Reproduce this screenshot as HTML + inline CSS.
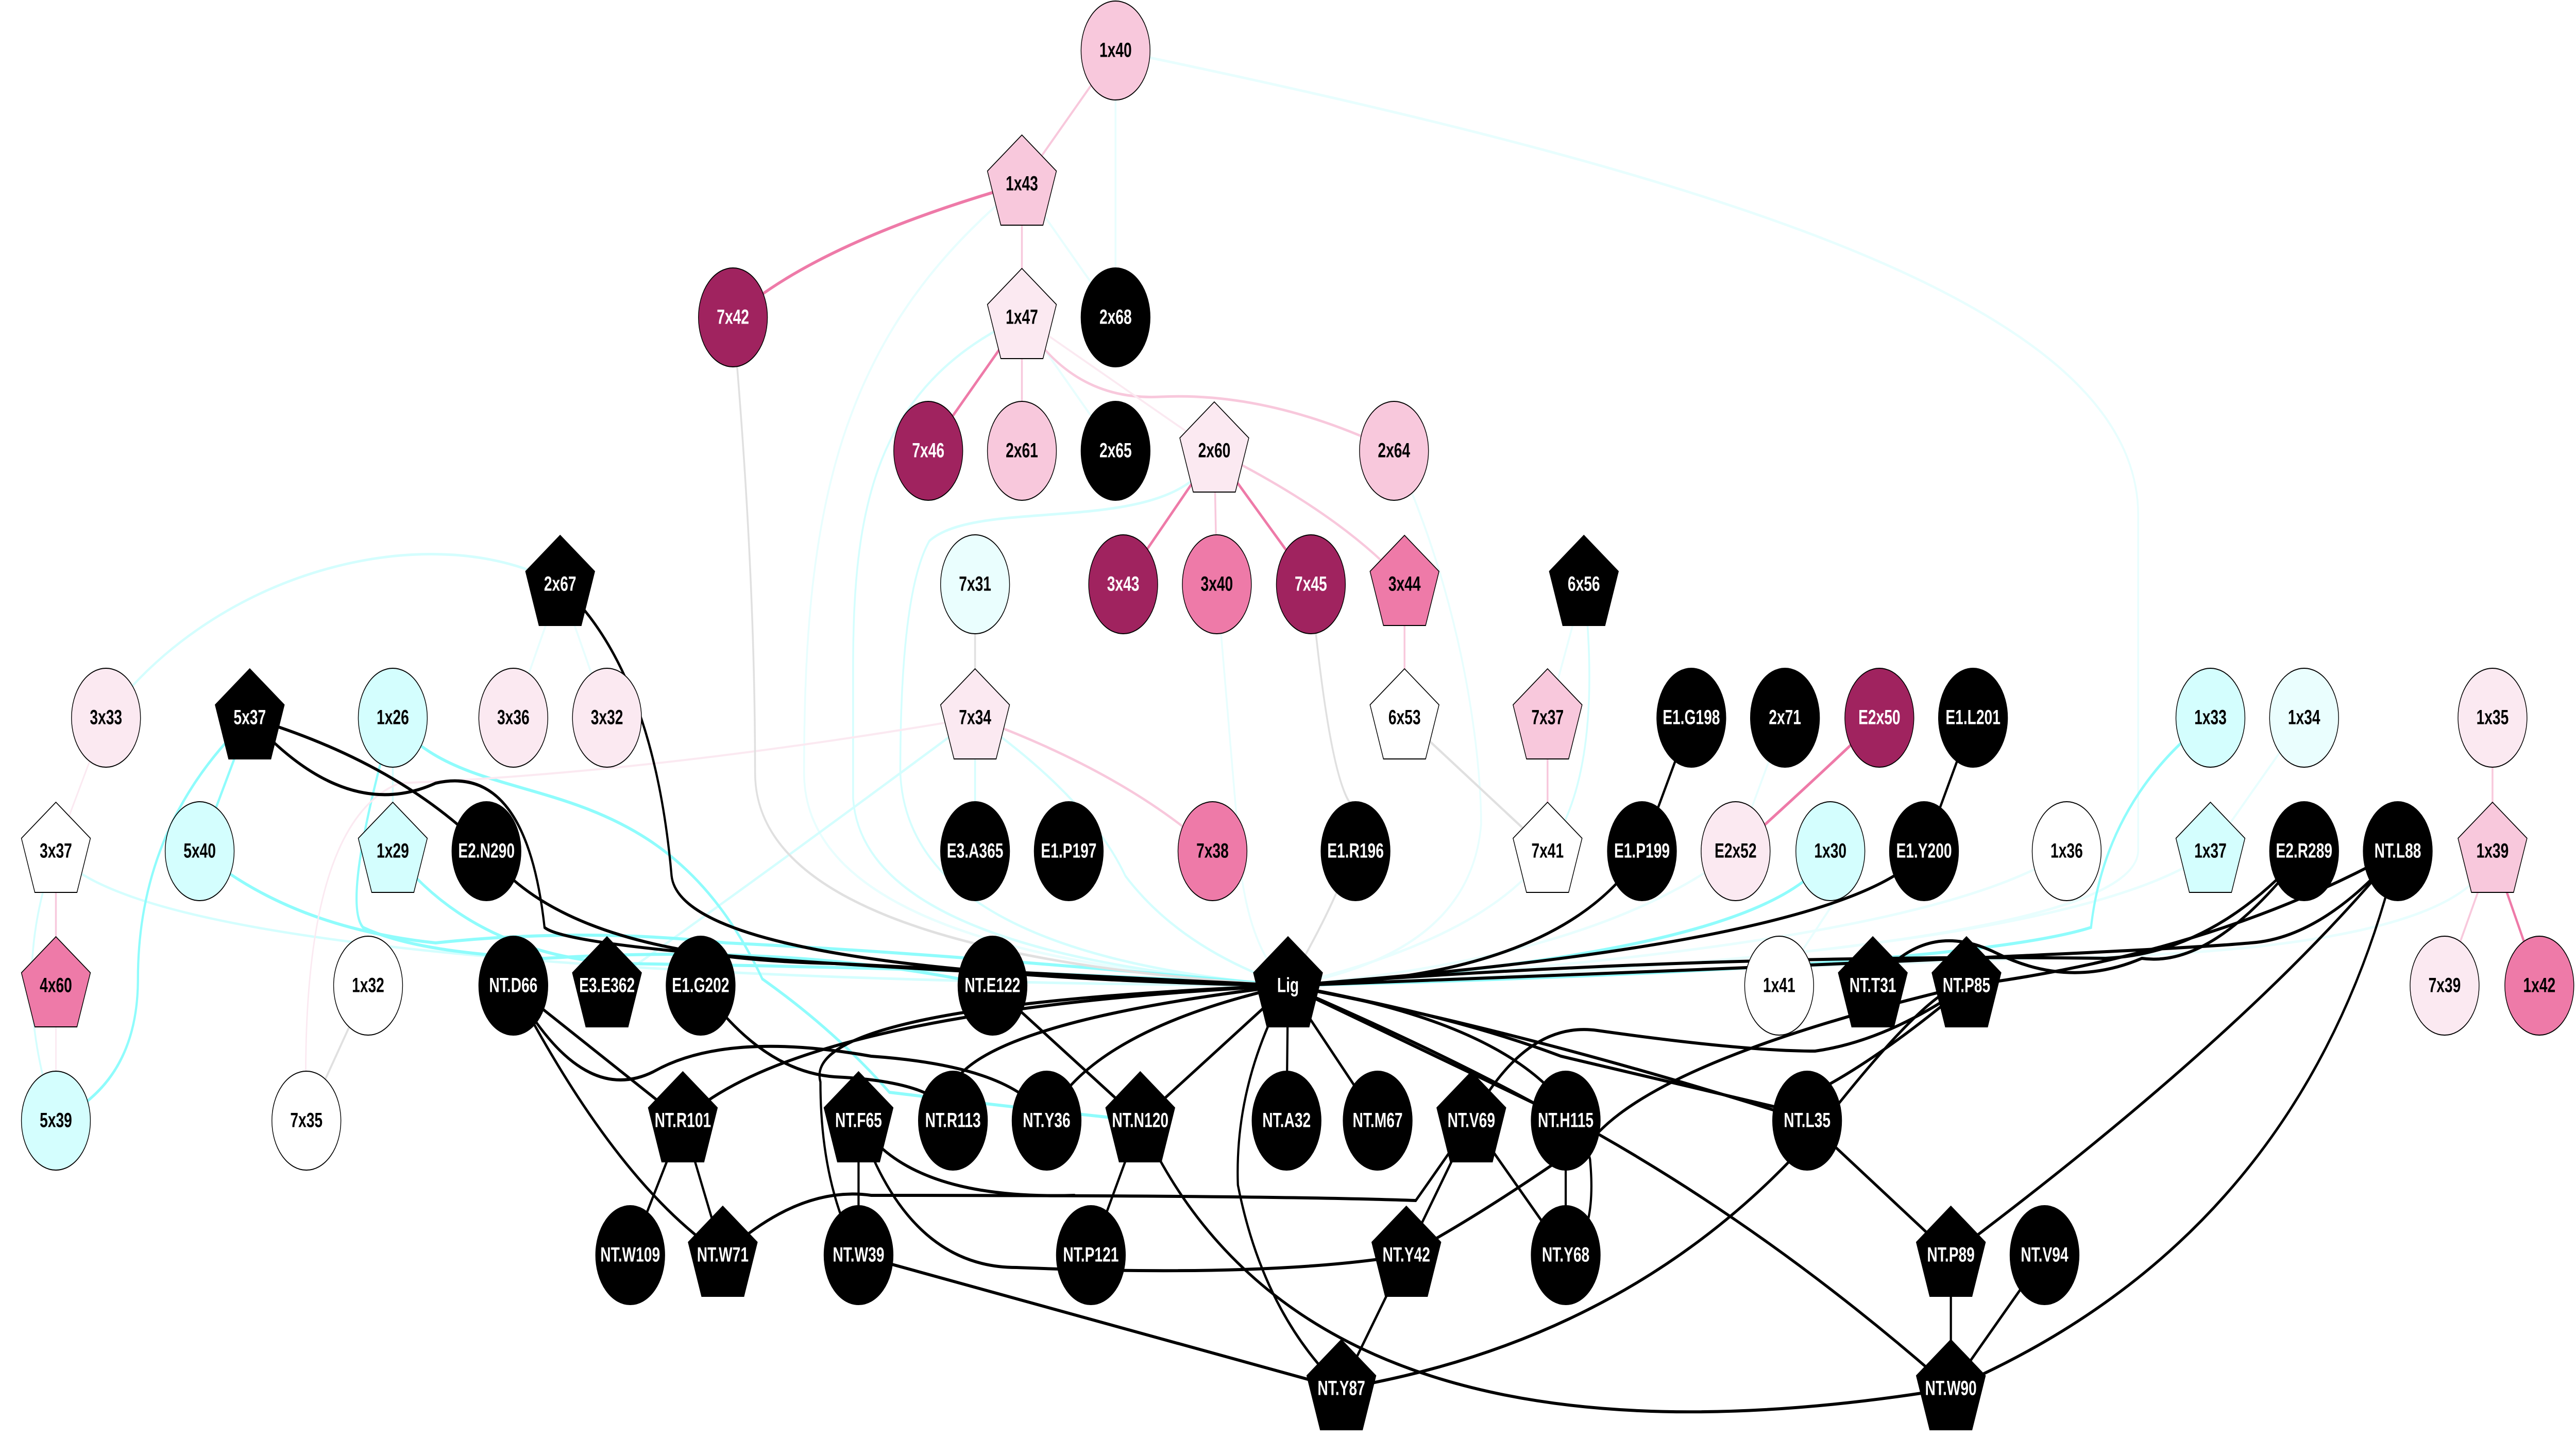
<!DOCTYPE html>
<html><head><meta charset="utf-8"><style>
html,body{margin:0;padding:0;background:#fff;overflow:hidden;}
svg{display:block;width:100vw;height:100vh;}
text{font-family:"Liberation Sans",sans-serif;font-weight:bold;font-size:40px;text-anchor:middle;dominant-baseline:central;}
.w{fill:#fff}.b{fill:#000}
</style></head><body>
<svg viewBox="0 0 7096 2789" preserveAspectRatio="none" xmlns="http://www.w3.org/2000/svg">
<g fill="none" stroke-linecap="round">
<g stroke="#e8fefe" stroke-width="5">
<path d="M3073,98 C4800,350 5890,600 5890,1000 L5890,1650 Q5890,1850 3548,1913"/>
<path d="M2815,357 C2300,650 2215,1000 2215,1500 Q2215,1850 3548,1913"/>
<path d="M3840,875 C4050,1200 4080,1500 4080,1600 Q4050,1850 3548,1913"/>
<path d="M3352,1134 L3420,1700 Q3450,1850 3548,1913"/>
<path d="M3073,98 L3073,616"/>
<path d="M2815,357 L3073,616"/>
<path d="M2815,616 L3073,875"/>
<path d="M6866,1652 Q6800,1850 5600,1860 L3548,1913"/>
<path d="M6347,1393 L6089,1652"/>
<path d="M5693,1652 Q5300,1840 3548,1913"/>
<path d="M4901,1913 L5100,1700"/>
<path d="M4917,1393 L4781,1652"/>
<path d="M1543,1134 L1414,1393 M1543,1134 L1672,1393"/>
<path d="M4363,1134 L4263,1393"/>
<path d="M4263,1652 Q4100,1820 3548,1913"/>
<path d="M4781,1652 Q4400,1860 3548,1913"/>
<path d="M6089,1652 Q5700,1860 3548,1913"/>
</g>
<g stroke="#d4fefe" stroke-width="5">
<path d="M2815,616 C2400,750 2350,1000 2350,1300 L2350,1550 Q2380,1850 3548,1913"/>
<path d="M3345,875 C3250,1050 2700,960 2560,1050 Q2480,1150 2480,1500 Q2500,1850 3548,1913"/>
<path d="M4363,1134 Q4420,1500 4263,1652"/>
<path d="M2686,1393 L2686,1652"/>
<path d="M2686,1393 Q2100,1700 1672,1913"/>
<path d="M2686,1393 Q3000,1550 3100,1700 Q3250,1840 3548,1913"/>
<path d="M1082,1393 L1082,1652"/>
<path d="M154,1652 Q400,1900 3548,1913"/>
<path d="M154,1652 Q20,1900 154,2175"/>
<path d="M292,1393 C600,1100 1200,1000 1543,1134"/>
</g>
<g stroke="#8ffcfc" stroke-width="6">
<path d="M688,1393 Q380,1600 380,1900 Q380,2100 154,2175"/>
<path d="M688,1393 L550,1652"/>
<path d="M550,1652 Q800,1800 1200,1830 Q1600,1800 2000,1830 Q2600,1850 3548,1913"/>
<path d="M1082,1393 C1300,1600 1800,1450 2100,1900 Q2300,2000 2450,2120 Q2800,2150 3141,2175"/>
<path d="M1082,1393 Q940,1750 1000,1800 Q1150,1850 1500,1860 Q2200,1830 2734,1913"/>
<path d="M1082,1652 Q1300,1850 1700,1870 Q2800,1880 3548,1913"/>
<path d="M5042,1652 Q4900,1850 3548,1913"/>
<path d="M6089,1393 Q5800,1550 5760,1800 Q5400,1880 3548,1913"/>
</g>
<g stroke="#f8c8dc" stroke-width="5">
<path d="M3073,98 L2815,357"/>
<path d="M2815,357 L2815,616"/>
<path d="M2815,616 L2815,875"/>
<path d="M2815,616 Q2950,780 3200,770 Q3500,760 3840,875"/>
<path d="M3345,875 Q3700,1000 3869,1134"/>
<path d="M3345,875 L3352,1134"/>
<path d="M3869,1134 L3869,1393"/>
<path d="M4263,1393 L4263,1652"/>
<path d="M2686,1393 Q3100,1500 3340,1652"/>
<path d="M6866,1393 L6866,1652"/>
<path d="M6866,1652 L6734,1913"/>
<path d="M154,1652 L154,1913"/>
</g>
<g stroke="#fbe9f1" stroke-width="4">
<path d="M2686,1393 Q1800,1500 1100,1520 Q820,1600 844,2175"/>
<path d="M154,1913 L154,2175"/>
<path d="M292,1393 L154,1652"/>
<path d="M2815,616 L3345,875"/>
</g>
<g stroke="#ee7aa8" stroke-width="6">
<path d="M2815,357 Q2250,470 2019,616"/>
<path d="M2815,616 L2557,875"/>
<path d="M3345,875 L3094,1134"/>
<path d="M3345,875 L3611,1134"/>
<path d="M5177,1393 Q5020,1500 4781,1652"/>
<path d="M6866,1652 L6995,1913"/>
</g>
<g stroke="#e0e0e0" stroke-width="5">
<path d="M2019,616 Q2080,1100 2080,1500 Q2080,1850 3548,1913"/>
<path d="M3611,1134 Q3660,1500 3720,1560 Q3790,1620 3548,1913"/>
<path d="M3869,1393 L4263,1652"/>
<path d="M2686,1134 L2686,1393"/>
<path d="M1014,1913 L844,2175"/>
</g>
<g stroke="#000" stroke-width="6">
<path d="M1543,1134 Q1800,1300 1850,1700 Q1880,1890 3548,1913"/>
<path d="M688,1393 Q950,1600 1200,1520 Q1450,1480 1500,1800 Q1600,1860 3548,1913"/>
<path d="M688,1393 Q1100,1480 1340,1652"/>
<path d="M1340,1652 Q1560,1860 2300,1870 L3548,1913"/>
<path d="M4523,1652 Q4300,1900 3548,1913"/>
<path d="M5300,1652 Q5100,1830 3548,1913"/>
<path d="M6347,1652 Q6100,1850 5800,1860 Q4700,1850 3548,1913"/>
<path d="M6605,1652 Q6400,1820 6200,1830 Q5900,1850 3548,1913"/>
<path d="M3548,1913 Q2500,2000 2625,2175"/>
<path d="M3548,1913 Q3000,2000 2883,2175"/>
<path d="M3548,1913 Q2200,1960 1881,2175"/>
<path d="M3548,1913 Q2200,1950 2260,2100 Q2260,2300 2365,2436"/>
<path d="M1414,1913 Q1600,2150 1800,2080 Q2000,2000 2400,2050 Q2800,2070 2883,2175"/>
<path d="M1414,1913 Q1700,2300 1991,2436"/>
<path d="M1414,1913 L1881,2175"/>
<path d="M1930,1913 Q2100,2080 2300,2090 Q2600,2100 2625,2175"/>
<path d="M2734,1913 L3141,2175"/>
<path d="M1881,2175 L1736,2436"/>
<path d="M1881,2175 L1991,2436"/>
<path d="M2365,2175 L2365,2436"/>
<path d="M2365,2175 Q2500,2460 2800,2460 Q3500,2480 3874,2436"/>
<path d="M3141,2175 L3005,2436"/>
<path d="M3141,2175 Q3600,2900 5374,2695"/>
<path d="M1991,2436 Q2200,2300 2400,2320 Q3500,2320 3900,2330 Q4000,2230 4053,2175"/>
<path d="M2365,2436 L3695,2695"/>
<path d="M3548,1913 L3544,2175"/>
<path d="M3548,1913 L3795,2175"/>
<path d="M3548,1913 L3141,2175"/>
<path d="M3548,1913 Q3400,2100 3410,2300 Q3480,2550 3695,2695"/>
<path d="M3548,1913 Q4000,2050 4313,2175"/>
<path d="M3548,1913 Q4300,2000 4380,2250 Q4400,2400 4313,2436"/>
<path d="M3548,1913 Q4200,2000 4978,2175"/>
<path d="M3548,1913 Q4100,2100 4400,2200 Q4900,2400 5374,2695"/>
<path d="M3548,1913 Q4000,1970 4300,2050 Q4600,2100 4900,2150 Q5100,2100 5417,1913"/>
<path d="M4053,2175 Q4200,1980 4400,2000 Q4800,2040 5000,2040 Q5200,2020 5417,1913"/>
<path d="M4053,2175 L3874,2436"/>
<path d="M4053,2175 L4313,2436"/>
<path d="M4313,2175 L4313,2436"/>
<path d="M3874,2436 Q4100,2350 4400,2200 Q4600,2050 5417,1913"/>
<path d="M3874,2436 L3695,2695"/>
<path d="M3695,2695 Q4500,2600 5000,2200 Q5330,1900 5417,1913"/>
<path d="M4978,2175 L5374,2436"/>
<path d="M5374,2436 L5374,2695"/>
<path d="M5632,2436 L5374,2695"/>
<path d="M4659,1393 L4523,1652"/>
<path d="M5435,1393 L5300,1652"/>
<path d="M6605,1652 Q6100,1850 5417,1913"/>
<path d="M6605,1652 Q6200,2000 5374,2436"/>
<path d="M6605,1652 Q6350,2400 5374,2695"/>
<path d="M5159,1913 Q5300,1780 5500,1850 Q5700,1920 5900,1860 Q6100,1880 6347,1652"/>
<path d="M2365,2175 Q2500,2330 2960,2320"/>
</g>
</g>
<g stroke="#000" stroke-width="2">
<ellipse cx="3073" cy="98" rx="95" ry="96" fill="#f8c8dc"/>
<polygon transform="translate(2815,357)" points="0,-95 95,-25 58,80 -58,80 -95,-25" fill="#f8c8dc"/>
<ellipse cx="2019" cy="616" rx="95" ry="96" fill="#a0235f"/>
<polygon transform="translate(2815,616)" points="0,-95 95,-25 58,80 -58,80 -95,-25" fill="#fbe9f1"/>
<ellipse cx="3073" cy="616" rx="95" ry="96" fill="#000"/>
<ellipse cx="2557" cy="875" rx="95" ry="96" fill="#a0235f"/>
<ellipse cx="2815" cy="875" rx="95" ry="96" fill="#f8c8dc"/>
<ellipse cx="3073" cy="875" rx="95" ry="96" fill="#000"/>
<polygon transform="translate(3345,875)" points="0,-95 95,-25 58,80 -58,80 -95,-25" fill="#fbe9f1"/>
<ellipse cx="3840" cy="875" rx="95" ry="96" fill="#f8c8dc"/>
<polygon transform="translate(1543,1134)" points="0,-95 95,-25 58,80 -58,80 -95,-25" fill="#000"/>
<ellipse cx="2686" cy="1134" rx="95" ry="96" fill="#eafefe"/>
<ellipse cx="3094" cy="1134" rx="95" ry="96" fill="#a0235f"/>
<ellipse cx="3352" cy="1134" rx="95" ry="96" fill="#ee7aa8"/>
<ellipse cx="3611" cy="1134" rx="95" ry="96" fill="#a0235f"/>
<polygon transform="translate(3869,1134)" points="0,-95 95,-25 58,80 -58,80 -95,-25" fill="#ee7aa8"/>
<polygon transform="translate(4363,1134)" points="0,-95 95,-25 58,80 -58,80 -95,-25" fill="#000"/>
<ellipse cx="292" cy="1393" rx="95" ry="96" fill="#fbe9f1"/>
<polygon transform="translate(688,1393)" points="0,-95 95,-25 58,80 -58,80 -95,-25" fill="#000"/>
<ellipse cx="1082" cy="1393" rx="95" ry="96" fill="#d4fefe"/>
<ellipse cx="1414" cy="1393" rx="95" ry="96" fill="#fbe9f1"/>
<ellipse cx="1672" cy="1393" rx="95" ry="96" fill="#fbe9f1"/>
<polygon transform="translate(2686,1393)" points="0,-95 95,-25 58,80 -58,80 -95,-25" fill="#fbe9f1"/>
<polygon transform="translate(3869,1393)" points="0,-95 95,-25 58,80 -58,80 -95,-25" fill="#fff"/>
<polygon transform="translate(4263,1393)" points="0,-95 95,-25 58,80 -58,80 -95,-25" fill="#f8c8dc"/>
<ellipse cx="4659" cy="1393" rx="95" ry="96" fill="#000"/>
<ellipse cx="4917" cy="1393" rx="95" ry="96" fill="#000"/>
<ellipse cx="5177" cy="1393" rx="95" ry="96" fill="#a0235f"/>
<ellipse cx="5435" cy="1393" rx="95" ry="96" fill="#000"/>
<ellipse cx="6089" cy="1393" rx="95" ry="96" fill="#d4fefe"/>
<ellipse cx="6347" cy="1393" rx="95" ry="96" fill="#eafefe"/>
<ellipse cx="6866" cy="1393" rx="95" ry="96" fill="#fbe9f1"/>
<polygon transform="translate(154,1652)" points="0,-95 95,-25 58,80 -58,80 -95,-25" fill="#fff"/>
<ellipse cx="550" cy="1652" rx="95" ry="96" fill="#d4fefe"/>
<polygon transform="translate(1082,1652)" points="0,-95 95,-25 58,80 -58,80 -95,-25" fill="#d4fefe"/>
<ellipse cx="1340" cy="1652" rx="95" ry="96" fill="#000"/>
<ellipse cx="2686" cy="1652" rx="95" ry="96" fill="#000"/>
<ellipse cx="2944" cy="1652" rx="95" ry="96" fill="#000"/>
<ellipse cx="3340" cy="1652" rx="95" ry="96" fill="#ee7aa8"/>
<ellipse cx="3734" cy="1652" rx="95" ry="96" fill="#000"/>
<polygon transform="translate(4263,1652)" points="0,-95 95,-25 58,80 -58,80 -95,-25" fill="#fff"/>
<ellipse cx="4523" cy="1652" rx="95" ry="96" fill="#000"/>
<ellipse cx="4781" cy="1652" rx="95" ry="96" fill="#fbe9f1"/>
<ellipse cx="5042" cy="1652" rx="95" ry="96" fill="#d4fefe"/>
<ellipse cx="5300" cy="1652" rx="95" ry="96" fill="#000"/>
<ellipse cx="5693" cy="1652" rx="95" ry="96" fill="#fff"/>
<polygon transform="translate(6089,1652)" points="0,-95 95,-25 58,80 -58,80 -95,-25" fill="#d4fefe"/>
<ellipse cx="6347" cy="1652" rx="95" ry="96" fill="#000"/>
<ellipse cx="6605" cy="1652" rx="95" ry="96" fill="#000"/>
<polygon transform="translate(6866,1652)" points="0,-95 95,-25 58,80 -58,80 -95,-25" fill="#f8c8dc"/>
<polygon transform="translate(154,1913)" points="0,-95 95,-25 58,80 -58,80 -95,-25" fill="#ee7aa8"/>
<ellipse cx="1014" cy="1913" rx="95" ry="96" fill="#fff"/>
<ellipse cx="1414" cy="1913" rx="95" ry="96" fill="#000"/>
<polygon transform="translate(1672,1913)" points="0,-95 95,-25 58,80 -58,80 -95,-25" fill="#000"/>
<ellipse cx="1930" cy="1913" rx="95" ry="96" fill="#000"/>
<ellipse cx="2734" cy="1913" rx="95" ry="96" fill="#000"/>
<polygon transform="translate(3548,1913)" points="0,-95 95,-25 58,80 -58,80 -95,-25" fill="#000"/>
<ellipse cx="4901" cy="1913" rx="95" ry="96" fill="#fff"/>
<polygon transform="translate(5159,1913)" points="0,-95 95,-25 58,80 -58,80 -95,-25" fill="#000"/>
<polygon transform="translate(5417,1913)" points="0,-95 95,-25 58,80 -58,80 -95,-25" fill="#000"/>
<ellipse cx="6734" cy="1913" rx="95" ry="96" fill="#fbe9f1"/>
<ellipse cx="6995" cy="1913" rx="95" ry="96" fill="#ee7aa8"/>
<ellipse cx="154" cy="2175" rx="95" ry="96" fill="#d4fefe"/>
<ellipse cx="844" cy="2175" rx="95" ry="96" fill="#fff"/>
<polygon transform="translate(1881,2175)" points="0,-95 95,-25 58,80 -58,80 -95,-25" fill="#000"/>
<polygon transform="translate(2365,2175)" points="0,-95 95,-25 58,80 -58,80 -95,-25" fill="#000"/>
<ellipse cx="2625" cy="2175" rx="95" ry="96" fill="#000"/>
<ellipse cx="2883" cy="2175" rx="95" ry="96" fill="#000"/>
<polygon transform="translate(3141,2175)" points="0,-95 95,-25 58,80 -58,80 -95,-25" fill="#000"/>
<ellipse cx="3544" cy="2175" rx="95" ry="96" fill="#000"/>
<ellipse cx="3795" cy="2175" rx="95" ry="96" fill="#000"/>
<polygon transform="translate(4053,2175)" points="0,-95 95,-25 58,80 -58,80 -95,-25" fill="#000"/>
<ellipse cx="4313" cy="2175" rx="95" ry="96" fill="#000"/>
<ellipse cx="4978" cy="2175" rx="95" ry="96" fill="#000"/>
<ellipse cx="1736" cy="2436" rx="95" ry="96" fill="#000"/>
<polygon transform="translate(1991,2436)" points="0,-95 95,-25 58,80 -58,80 -95,-25" fill="#000"/>
<ellipse cx="2365" cy="2436" rx="95" ry="96" fill="#000"/>
<ellipse cx="3005" cy="2436" rx="95" ry="96" fill="#000"/>
<polygon transform="translate(3874,2436)" points="0,-95 95,-25 58,80 -58,80 -95,-25" fill="#000"/>
<ellipse cx="4313" cy="2436" rx="95" ry="96" fill="#000"/>
<polygon transform="translate(5374,2436)" points="0,-95 95,-25 58,80 -58,80 -95,-25" fill="#000"/>
<ellipse cx="5632" cy="2436" rx="95" ry="96" fill="#000"/>
<polygon transform="translate(3695,2695)" points="0,-95 95,-25 58,80 -58,80 -95,-25" fill="#000"/>
<polygon transform="translate(5374,2695)" points="0,-95 95,-25 58,80 -58,80 -95,-25" fill="#000"/>
</g>
<g class="b">
<text x="3073" y="98">1x40</text><text x="2815" y="357">1x43</text><text x="2815" y="616">1x47</text>
<text x="2815" y="875">2x61</text><text x="3345" y="875">2x60</text><text x="3840" y="875">2x64</text>
<text x="2686" y="1134">7x31</text><text x="3352" y="1134">3x40</text><text x="3869" y="1134">3x44</text>
<text x="292" y="1393">3x33</text><text x="1082" y="1393">1x26</text><text x="1414" y="1393">3x36</text><text x="1672" y="1393">3x32</text>
<text x="2686" y="1393">7x34</text><text x="3869" y="1393">6x53</text><text x="4263" y="1393">7x37</text>
<text x="6089" y="1393">1x33</text><text x="6347" y="1393">1x34</text><text x="6866" y="1393">1x35</text>
<text x="154" y="1652">3x37</text><text x="550" y="1652">5x40</text><text x="1082" y="1652">1x29</text><text x="3340" y="1652">7x38</text>
<text x="4263" y="1652">7x41</text><text x="4781" y="1652">E2x52</text><text x="5042" y="1652">1x30</text><text x="5693" y="1652">1x36</text>
<text x="6089" y="1652">1x37</text><text x="6866" y="1652">1x39</text>
<text x="154" y="1913">4x60</text><text x="1014" y="1913">1x32</text><text x="4901" y="1913">1x41</text><text x="6734" y="1913">7x39</text><text x="6995" y="1913">1x42</text>
<text x="154" y="2175">5x39</text><text x="844" y="2175">7x35</text>
</g>
<g class="w">
<text x="2019" y="616">7x42</text><text x="3073" y="616">2x68</text><text x="2557" y="875">7x46</text><text x="3073" y="875">2x65</text>
<text x="1543" y="1134">2x67</text><text x="3094" y="1134">3x43</text><text x="3611" y="1134">7x45</text><text x="4363" y="1134">6x56</text>
<text x="688" y="1393">5x37</text><text x="4659" y="1393">E1.G198</text><text x="4917" y="1393">2x71</text><text x="5177" y="1393">E2x50</text><text x="5435" y="1393">E1.L201</text>
<text x="1340" y="1652">E2.N290</text><text x="2686" y="1652">E3.A365</text><text x="2944" y="1652">E1.P197</text><text x="3734" y="1652">E1.R196</text>
<text x="4523" y="1652">E1.P199</text><text x="5300" y="1652">E1.Y200</text><text x="6347" y="1652">E2.R289</text><text x="6605" y="1652">NT.L88</text>
<text x="1414" y="1913">NT.D66</text><text x="1672" y="1913">E3.E362</text><text x="1930" y="1913">E1.G202</text><text x="2734" y="1913">NT.E122</text>
<text x="3548" y="1913">Lig</text><text x="5159" y="1913">NT.T31</text><text x="5417" y="1913">NT.P85</text>
<text x="1881" y="2175">NT.R101</text><text x="2365" y="2175">NT.F65</text><text x="2625" y="2175">NT.R113</text><text x="2883" y="2175">NT.Y36</text>
<text x="3141" y="2175">NT.N120</text><text x="3544" y="2175">NT.A32</text><text x="3795" y="2175">NT.M67</text><text x="4053" y="2175">NT.V69</text>
<text x="4313" y="2175">NT.H115</text><text x="4978" y="2175">NT.L35</text>
<text x="1736" y="2436">NT.W109</text><text x="1991" y="2436">NT.W71</text><text x="2365" y="2436">NT.W39</text><text x="3005" y="2436">NT.P121</text>
<text x="3874" y="2436">NT.Y42</text><text x="4313" y="2436">NT.Y68</text><text x="5374" y="2436">NT.P89</text><text x="5632" y="2436">NT.V94</text>
<text x="3695" y="2695">NT.Y87</text><text x="5374" y="2695">NT.W90</text>
</g>
</svg>
</body></html>
